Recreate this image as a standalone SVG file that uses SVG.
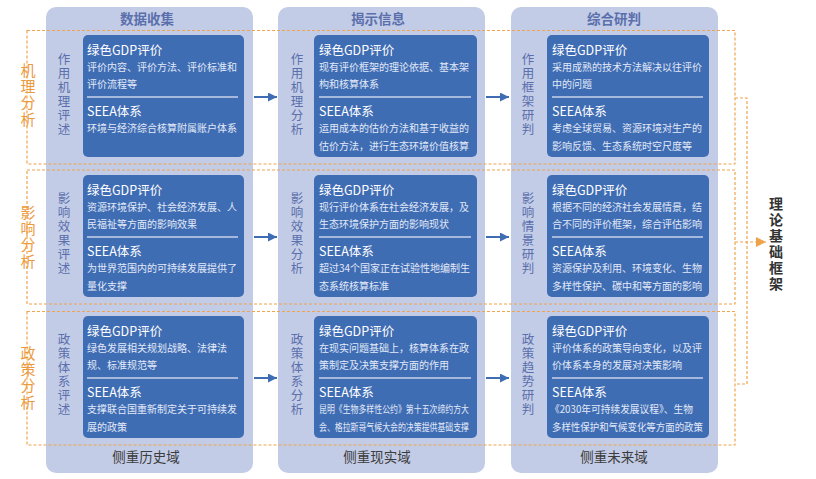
<svg xmlns="http://www.w3.org/2000/svg" width="816" height="479" viewBox="0 0 816 479">
<defs>
<style>
text{font-family:"Noto Sans CJK SC","Noto Sans",sans-serif}
.panel{fill:#c3cce6}
.box{fill:#3f6db4}
.hdr{font-size:13.5px;fill:#5a6fac;font-weight:bold;text-anchor:middle}
.ftr{font-size:13.5px;fill:#3c3c3c;text-anchor:middle}
.v{writing-mode:vertical-rl;text-anchor:start}
.side{font-size:12.5px;fill:#5a6fac;letter-spacing:1.5px}
.row{font-size:15px;fill:#ec9a3e;letter-spacing:1.3px}
.ttl{font-size:12.5px;fill:#ffffff}
.dsc{font-size:10px;fill:#e2e9f7}
.sep{stroke:#c9d2ea;stroke-width:1.5}
.dash{fill:none;stroke:#f0a44e;stroke-width:1.2;stroke-dasharray:3 2}
.blue{stroke:#3f6db4;stroke-width:2;fill:none}
.theory{font-size:14px;fill:#333333;font-weight:bold;letter-spacing:2px}
</style>
<marker id="ab" viewBox="0 0 10 10" refX="10" refY="5" markerWidth="9" markerHeight="9" markerUnits="userSpaceOnUse" orient="auto"><path d="M0,0 L10,5 L0,10 z" fill="#3f6db4"/></marker>
<marker id="ao" viewBox="0 0 10 10" refX="10" refY="5" markerWidth="10" markerHeight="10" markerUnits="userSpaceOnUse" orient="auto"><path d="M0,0 L10,5 L0,10 z" fill="#eea24c"/></marker>
</defs>

<g id="col1">
<rect class="panel" x="46" y="7" width="207" height="466" rx="10"/>
<text class="hdr" x="147" y="24">数据收集</text>
<text class="ftr" x="146" y="462">侧重历史域</text>
</g>
<g id="col2">
<rect class="panel" x="278" y="7" width="207" height="466" rx="10"/>
<text class="hdr" x="378" y="24">揭示信息</text>
<text class="ftr" x="377" y="462">侧重现实域</text>
</g>
<g id="col3">
<rect class="panel" x="511" y="7" width="207" height="466" rx="10"/>
<text class="hdr" x="614" y="24">综合研判</text>
<text class="ftr" x="614" y="462">侧重未来域</text>
</g>

<g id="rows">
<rect class="dash" x="27" y="30.5" width="708" height="133.5"/>
<rect class="dash" x="27" y="170" width="708" height="134"/>
<rect class="dash" x="27" y="311.5" width="708" height="133.5"/>
<text class="row v" x="28" y="62.5">机理分析</text>
<text class="row v" x="28" y="204.5">影响分析</text>
<text class="row v" x="28" y="345.5">政策分析</text>
</g>

<!-- Row 1 -->
<g id="n11">
<text class="side v" x="64" y="52.5">作用机理评述</text>
<rect class="box" x="83" y="35" width="161" height="122" rx="5"/>
<text class="ttl" x="87" y="55">绿色GDP评价</text>
<text class="dsc" x="87" y="71">评价内容、评价方法、评价标准和</text>
<text class="dsc" x="87" y="88">评价流程等</text>
<line class="sep" x1="87" y1="97" x2="238" y2="97"/>
<text class="ttl" x="87" y="116">SEEA体系</text>
<text class="dsc" x="87" y="132">环境与经济综合核算附属账户体系</text>
</g>
<g id="n12">
<text class="side v" x="297" y="52.5">作用机理分析</text>
<rect class="box" x="314" y="35" width="163" height="122" rx="5"/>
<text class="ttl" x="319" y="55">绿色GDP评价</text>
<text class="dsc" x="319" y="71">现有评价框架的理论依据、基本架</text>
<text class="dsc" x="319" y="88">构和核算体系</text>
<line class="sep" x1="319" y1="97" x2="471" y2="97"/>
<text class="ttl" x="319" y="116">SEEA体系</text>
<text class="dsc" x="319" y="132">运用成本的估价方法和基于收益的</text>
<text class="dsc" x="319" y="150">估价方法，进行生态环境价值核算</text>
</g>
<g id="n13">
<text class="side v" x="528" y="52.5">作用框架研判</text>
<rect class="box" x="547" y="35" width="162" height="122" rx="5"/>
<text class="ttl" x="552" y="55">绿色GDP评价</text>
<text class="dsc" x="552" y="71">采用成熟的技术方法解决以往评价</text>
<text class="dsc" x="552" y="88">中的问题</text>
<line class="sep" x1="552" y1="97" x2="703" y2="97"/>
<text class="ttl" x="552" y="116">SEEA体系</text>
<text class="dsc" x="552" y="132">考虑全球贸易、资源环境对生产的</text>
<text class="dsc" x="552" y="150">影响反馈、生态系统时空尺度等</text>
</g>

<!-- Row 2 -->
<g id="n21">
<text class="side v" x="64" y="191.5">影响效果评述</text>
<rect class="box" x="83" y="175" width="161" height="122" rx="5"/>
<text class="ttl" x="87" y="195">绿色GDP评价</text>
<text class="dsc" x="87" y="211">资源环境保护、社会经济发展、人</text>
<text class="dsc" x="87" y="228">民福祉等方面的影响效果</text>
<line class="sep" x1="87" y1="237" x2="238" y2="237"/>
<text class="ttl" x="87" y="256">SEEA体系</text>
<text class="dsc" x="87" y="272">为世界范围内的可持续发展提供了</text>
<text class="dsc" x="87" y="290">量化支撑</text>
</g>
<g id="n22">
<text class="side v" x="297" y="191.5">影响效果分析</text>
<rect class="box" x="314" y="175" width="163" height="122" rx="5"/>
<text class="ttl" x="319" y="195">绿色GDP评价</text>
<text class="dsc" x="319" y="211">现行评价体系在社会经济发展，及</text>
<text class="dsc" x="319" y="228">生态环境保护方面的影响现状</text>
<line class="sep" x1="319" y1="237" x2="471" y2="237"/>
<text class="ttl" x="319" y="256">SEEA体系</text>
<text class="dsc" x="319" y="272">超过34个国家正在试验性地编制生</text>
<text class="dsc" x="319" y="290">态系统核算标准</text>
</g>
<g id="n23">
<text class="side v" x="528" y="191.5">影响情景研判</text>
<rect class="box" x="547" y="175" width="162" height="122" rx="5"/>
<text class="ttl" x="552" y="195">绿色GDP评价</text>
<text class="dsc" x="552" y="211">根据不同的经济社会发展情景，结</text>
<text class="dsc" x="552" y="228">合不同的评价框架，综合评估影响</text>
<line class="sep" x1="552" y1="237" x2="703" y2="237"/>
<text class="ttl" x="552" y="256">SEEA体系</text>
<text class="dsc" x="552" y="272">资源保护及利用、环境变化、生物</text>
<text class="dsc" x="552" y="290">多样性保护、碳中和等方面的影响</text>
</g>

<!-- Row 3 -->
<g id="n31">
<text class="side v" x="64" y="332.5">政策体系评述</text>
<rect class="box" x="83" y="316" width="161" height="122" rx="5"/>
<text class="ttl" x="87" y="336">绿色GDP评价</text>
<text class="dsc" x="87" y="352">绿色发展相关规划战略、法律法</text>
<text class="dsc" x="87" y="369">规、标准规范等</text>
<line class="sep" x1="87" y1="378" x2="238" y2="378"/>
<text class="ttl" x="87" y="397">SEEA体系</text>
<text class="dsc" x="87" y="413">支撑联合国重新制定关于可持续发</text>
<text class="dsc" x="87" y="431">展的政策</text>
</g>
<g id="n32">
<text class="side v" x="297" y="332.5">政策体系分析</text>
<rect class="box" x="314" y="316" width="163" height="122" rx="5"/>
<text class="ttl" x="319" y="336">绿色GDP评价</text>
<text class="dsc" x="319" y="352">在现实问题基础上，核算体系在政</text>
<text class="dsc" x="319" y="369">策制定及决策支撑方面的作用</text>
<line class="sep" x1="319" y1="378" x2="471" y2="378"/>
<text class="ttl" x="319" y="397">SEEA体系</text>
<text class="dsc" x="319" y="413" textLength="150" lengthAdjust="spacingAndGlyphs">昆明《生物多样性公约》第十五次缔约方大</text>
<text class="dsc" x="319" y="431" textLength="150" lengthAdjust="spacingAndGlyphs">会、格拉斯哥气候大会的决策提供基础支撑</text>
</g>
<g id="n33">
<text class="side v" x="528" y="332.5">政策趋势研判</text>
<rect class="box" x="547" y="316" width="162" height="122" rx="5"/>
<text class="ttl" x="552" y="336">绿色GDP评价</text>
<text class="dsc" x="552" y="352">评价体系的政策导向变化，以及评</text>
<text class="dsc" x="552" y="369">价体系本身的发展对决策影响</text>
<line class="sep" x1="552" y1="378" x2="703" y2="378"/>
<text class="ttl" x="552" y="397">SEEA体系</text>
<text class="dsc" x="550" y="413" textLength="143" lengthAdjust="spacingAndGlyphs">《2030年可持续发展议程》、生物</text>
<text class="dsc" x="552" y="431" textLength="151" lengthAdjust="spacingAndGlyphs">多样性保护和气候变化等方面的政策</text>
</g>

<g id="theory">
<text class="theory v" x="776" y="197">理论基础框架</text>
</g>

<g id="connectors">
<line class="blue" x1="254" y1="97" x2="277" y2="97" marker-end="url(#ab)"/>
<line class="blue" x1="486" y1="97" x2="509" y2="97" marker-end="url(#ab)"/>
<line class="blue" x1="254" y1="237" x2="277" y2="237" marker-end="url(#ab)"/>
<line class="blue" x1="486" y1="237" x2="509" y2="237" marker-end="url(#ab)"/>
<line class="blue" x1="254" y1="378" x2="277" y2="378" marker-end="url(#ab)"/>
<line class="blue" x1="486" y1="378" x2="509" y2="378" marker-end="url(#ab)"/>
<path class="dash" d="M735,98 H747 V384 H735"/>
<line class="dash" x1="735" y1="242" x2="766" y2="242" marker-end="url(#ao)"/>
</g>
</svg>
